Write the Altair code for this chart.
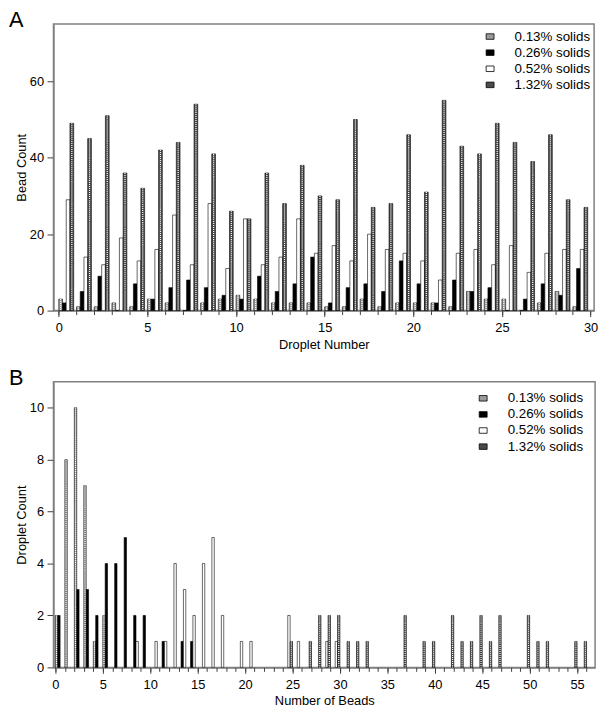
import altair as alt
import pandas as pd

SERIES = ["0.13% solids", "0.26% solids", "0.52% solids", "1.32% solids"]
FILLS = ["#9a9a9a", "#000000", "#ffffff", "#4a4a4a"]
RECT = "M-1,-0.7H1V0.7H-1Z"

# Panel A: bead count per droplet
droplet = list(range(30))
s013 = [3, 1, 1, 2, 1, 3, 2, 0, 2, 3, 4, 3, 2, 2, 2, 1, 1, 3, 1, 2, 2, 2, 1, 5, 3, 3, 0, 2, 5, 1]
s026 = [2, 5, 9, 0, 7, 3, 6, 8, 6, 4, 3, 9, 5, 7, 14, 2, 6, 7, 5, 13, 7, 2, 8, 5, 6, 0, 3, 7, 4, 11]
s052 = [29, 14, 12, 19, 13, 16, 25, 12, 28, 11, 24, 12, 14, 24, 15, 17, 13, 20, 16, 15, 13, 8, 15, 16, 12, 17, 10, 15, 16, 16]
s132 = [49, 45, 51, 36, 32, 42, 44, 54, 41, 26, 24, 36, 28, 38, 30, 29, 50, 27, 28, 46, 31, 55, 43, 41, 49, 44, 39, 46, 29, 27]

# Panel B: droplet count per number of beads
h013_beads = [0, 1, 2, 3, 4, 5]
h013_count = [2, 8, 10, 7, 1, 2]
h026_beads = [0, 2, 3, 4, 5, 6, 7, 8, 9, 11, 13, 14]
h026_count = [2, 3, 3, 2, 4, 4, 5, 2, 2, 1, 1, 1]
h052_beads = [8, 10, 11, 12, 13, 14, 15, 16, 17, 19, 20, 24, 25, 28, 29]
h052_count = [1, 1, 1, 4, 3, 2, 4, 5, 2, 1, 1, 2, 1, 1, 1]
h132_beads = [24, 26, 27, 28, 29, 30, 31, 32, 36, 38, 39, 41, 42, 43, 44, 45, 46, 49, 50, 51, 54, 55]
h132_count = [1, 1, 2, 2, 2, 1, 1, 1, 2, 1, 1, 2, 1, 1, 2, 1, 2, 2, 1, 1, 1, 1]

top_rows = []
for k, (name, vals) in enumerate(zip(SERIES, [s013, s026, s052, s132])):
    for d, v in zip(droplet, vals):
        top_rows.append({"pos": d, "series": name, "k": k, "value": v})
top_df = pd.DataFrame(top_rows)

bot_rows = []
for k, (name, bs, cs) in enumerate(zip(SERIES, [h013_beads, h026_beads, h052_beads, h132_beads],
                                        [h013_count, h026_count, h052_count, h132_count])):
    for b, c in zip(bs, cs):
        bot_rows.append({"pos": b, "series": name, "k": k, "value": c})
bot_df = pd.DataFrame(bot_rows)


def make_legend(lx, ly):
    return alt.Legend(
        title=None, orient="none", legendX=lx, legendY=ly, padding=0,
        symbolType=RECT, symbolSize=64, labelFontSize=13.5, labelOffset=18, rowPadding=1.3,
        symbolStrokeColor="#000000", symbolStrokeWidth=0.8, labelColor="#000000",
        symbolOpacity=1,
    )


def panel(df, bw, xdom, ydom, w, h, xtitle, ytitle, xmajor, xminor, yvals, lx, ly, letter):
    base = alt.Chart(df).transform_calculate(
        x0=f"datum.pos + datum.k * {bw}",
        x1=f"datum.pos + (datum.k + 1) * {bw}",
        xc=f"datum.pos + (datum.k + 0.5) * {bw}",
    )
    xscale = alt.Scale(domain=xdom, nice=False, zero=False)
    yscale = alt.Scale(domain=ydom, nice=False)
    bars = base.mark_bar(stroke="#000000", strokeWidth=0.6).encode(
        x=alt.X("x0:Q", scale=xscale, title=xtitle,
                axis=alt.Axis(values=xmajor, tickSize=6, grid=False, orient="bottom",
                              labelPadding=5, titlePadding=4)),
        x2="x1:Q",
        y=alt.Y("value:Q", scale=yscale, title=ytitle,
                axis=alt.Axis(values=yvals, tickSize=6.5, grid=False, labelPadding=3.5,
                              titlePadding=1)),
        y2=alt.datum(0),
        color=alt.Color("series:N", scale=alt.Scale(domain=SERIES, range=FILLS),
                        legend=make_legend(lx, ly)),
    )
    dashes = base.transform_filter("datum.k == 3 || datum.k == 0").mark_rule(
        color="#ffffff", strokeWidth=1.2, strokeDash=[1, 1]
    ).encode(
        x=alt.X("xc:Q", scale=xscale, title=None,
                axis=alt.Axis(values=xminor, tickSize=4, labels=False, domain=False,
                              grid=False, orient="bottom", title=None)),
        y=alt.Y("value:Q", scale=yscale, title=ytitle),
        y2=alt.datum(0),
    )
    return alt.layer(bars, dashes).resolve_axis(x="independent").properties(
        width=w, height=h,
        title=alt.TitleParams(letter, anchor="start", frame="group", dx=-45, fontSize=22,
                              fontWeight="normal", color="#000000", baseline="top",
                              offset=-8),
    )


top = panel(top_df, 0.21, [-0.3, 30.2], [0, 75], 547, 290, "Droplet Number", "Bead Count",
            list(range(0, 31, 5)), list(range(0, 31)), [0, 20, 40, 60], 435, 6, "A")
bottom = panel(bot_df, 0.25, [-0.2, 56.9], [0, 11], 548, 289, "Number of Beads", "Droplet Count",
               list(range(0, 56, 5)), list(range(0, 57)), [0, 2, 4, 6, 8, 10], 428, 10, "B")

chart = alt.vconcat(top, bottom, spacing=14).resolve_scale(
    color="independent"
).resolve_legend(
    color="independent"
).configure(
    font="Liberation Sans", padding={"left": 0, "top": -4, "right": 5, "bottom": 0}
).configure_view(
    stroke="#808080", strokeWidth=1.5
).configure_axis(
    labelFontSize=13, titleFontSize=13, labelColor="#000000", titleColor="#000000",
    titleFontWeight="normal", domainColor="#808080", domainWidth=1.5,
    tickColor="#404040", tickWidth=1
)

chart.save("out.html", embed_options={"renderer": "svg", "actions": False})
